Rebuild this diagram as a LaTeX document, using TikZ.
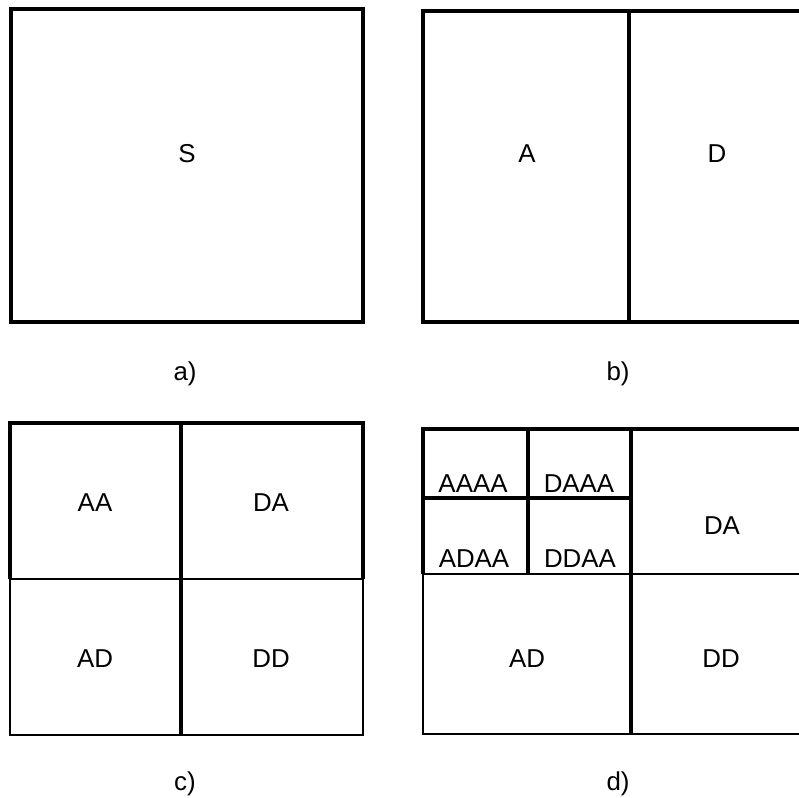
\documentclass[tikz,border=0pt]{standalone}
\usepackage{fontspec}
\setmainfont{Liberation Sans}
\usepackage{tikz}
\definecolor{cellline}{HTML}{000000}

\begin{document}
\begin{tikzpicture}[
    x=0.025cm, y=-0.025cm,
    heavy/.style={draw=cellline, line width=2.6pt},
    light/.style={draw=cellline, line width=2pt},
    lbl/.style={anchor=base, inner sep=0pt, font=\fontsize{18.4}{22}\selectfont}
]
\useasboundingbox (0,0) rectangle (799,797);
\clip (0,0) rectangle (799,797);
% a)
\draw[heavy] (11,9) rectangle (363,322);
\node[lbl] (s) at (187,162) {S};
\node[lbl] (capa) at (185,380) {a)};
% b)
\draw[heavy] (423,11) rectangle (805,322);
\draw[heavy] (629,11) -- (629,322);
\node[lbl] (a) at (527,162) {A};
\node[lbl] (d) at (717,162) {D};
\node[lbl] (capb) at (618,380) {b)};
% c)
\draw[light] (10,579) rectangle (363,735);
\draw[heavy] (10,579) -- (10,423) -- (363,423) -- (363,579);
\draw[heavy] (181,423) -- (181,735);
\node[lbl] (aa) at (95,511) {AA};
\node[lbl] (da) at (271,511) {DA};
\node[lbl] (ad) at (95,667) {AD};
\node[lbl] (dd) at (271,667) {DD};
\node[lbl] (capc) at (185,790) {c)};
% d)
\draw[light] (423,574) rectangle (805,734);
\draw[heavy] (423,574) -- (423,429) -- (805,429);
\draw[heavy] (631,429) -- (631,734);
\draw[heavy] (423,498) -- (631,498);
\draw[heavy] (528,429) -- (528,574);
\node[lbl] (aaaa) at (473,492) {AAAA};
\node[lbl] (daaa) at (579,492) {DAAA};
\node[lbl] (adaa) at (474,567) {ADAA};
\node[lbl] (ddaa) at (580,567) {DDAA};
\node[lbl] (dab) at (722,534) {DA};
\node[lbl] (adb) at (527,667) {AD};
\node[lbl] (ddb) at (721,667) {DD};
\node[lbl] (capd) at (618,790) {d)};
\end{tikzpicture}
\end{document}
